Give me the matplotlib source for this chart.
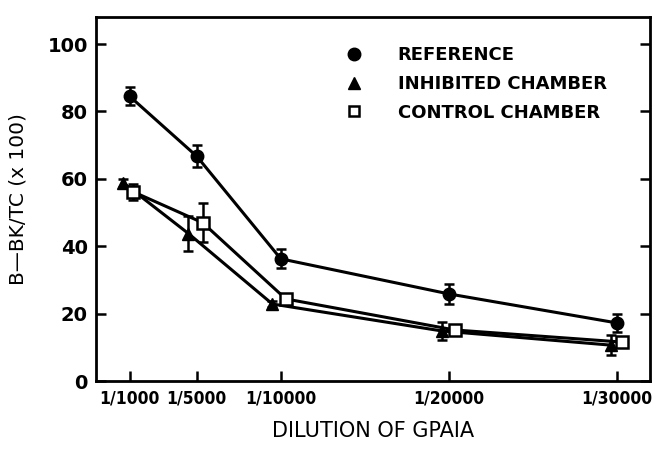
import matplotlib
matplotlib.use("Agg")
import matplotlib.pyplot as plt
from matplotlib.lines import Line2D

tick_vals = [1000, 5000, 10000, 20000, 30000]
tick_labels = ["1/1000", "1/5000", "1/10000", "1/20000", "1/30000"]

ref_x = [1000, 5000, 10000, 20000, 30000]
ref_y = [84.5, 66.7, 36.3, 25.9, 17.3]
ref_err = [2.7, 3.3, 2.8, 3.0, 2.7]

inh_x = [600, 4500, 9500, 19600, 29650]
inh_y = [58.9, 43.8, 22.9, 14.9, 10.7]
inh_err = [1.2, 5.2, 1.0, 2.7, 3.0]

ctl_x = [1200, 5350, 10300, 20350, 30350]
ctl_y = [56.2, 47.0, 24.4, 15.2, 11.6]
ctl_err = [2.4, 5.8, 1.0, 0.8, 0.8]

fig = plt.figure(figsize=(6.58, 4.49), dpi=100)
ax = fig.add_axes([0.146, 0.151, 0.842, 0.811])

kw = dict(color="black", lw=2.2, capsize=3.5, elinewidth=1.8, capthick=1.8)
ax.errorbar(ref_x, ref_y, yerr=ref_err, marker="o", ms=9, mfc="black", mec="black", **kw)
ax.errorbar(inh_x, inh_y, yerr=inh_err, marker="^", ms=9, mfc="black", mec="black", **kw)
ax.errorbar(ctl_x, ctl_y, yerr=ctl_err, marker="s", ms=8, mfc="white", mec="black", mew=1.8, **kw)

ax.set_xlim(-1000, 32000)
ax.set_ylim(0, 108)
ax.set_xticks(tick_vals)
ax.set_xticklabels(tick_labels, fontstretch="condensed", fontweight="bold", fontsize=12.5)
ax.set_yticks([0, 20, 40, 60, 80, 100])
ax.set_yticklabels(["0", "20", "40", "60", "80", "100"], fontweight="bold", fontsize=14)
ax.tick_params(axis="y", direction="in", length=7, width=1.8, right=True, pad=6)
ax.tick_params(axis="x", direction="in", length=7, width=1.8, pad=6)
for s in ax.spines.values():
    s.set_linewidth(2)

ax.set_ylabel("B\u2014BK/TC (x 100)", fontsize=14.5, labelpad=14)
ax.set_xlabel("DILUTION OF GPAIA", fontsize=15, labelpad=10)

handles = [
    Line2D([], [], ls="none", marker="o", ms=9, mfc="black", mec="black"),
    Line2D([], [], ls="none", marker="^", ms=9, mfc="black", mec="black"),
    Line2D([], [], ls="none", marker="s", ms=7, mfc="white", mec="black", mew=1.8),
]
labels = ["REFERENCE", "INHIBITED CHAMBER", "CONTROL CHAMBER"]
ax.legend(handles, labels, loc="upper left", bbox_to_anchor=(0.424, 0.965), frameon=False,
          handlelength=0.8, handletextpad=2.0, labelspacing=0.6,
          prop={"weight": "bold", "size": 13})

fig.savefig("out.png", dpi=100)
